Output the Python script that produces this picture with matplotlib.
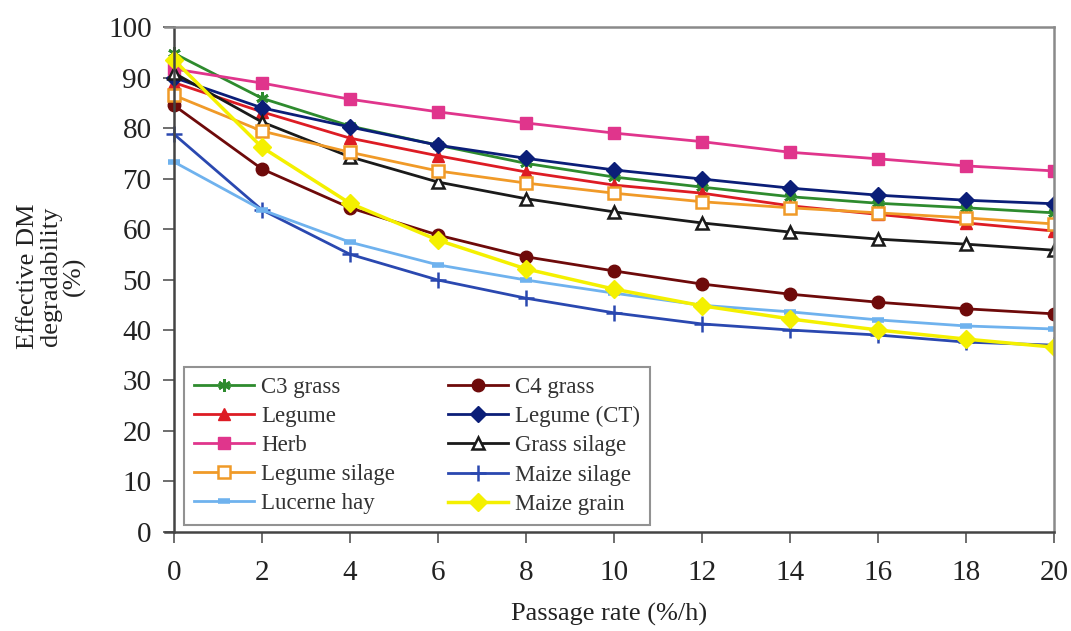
import matplotlib
matplotlib.use("Agg")
import matplotlib.pyplot as plt

plt.rcParams['font.family'] = ['Liberation Serif', 'DejaVu Serif']

rate = [0, 2, 4, 6, 8, 10, 12, 14, 16, 18, 20]

c3_grass = [94.8, 85.9, 80.4, 76.6, 73.0, 70.3, 68.3, 66.4, 65.1, 64.2, 63.2]
c4_grass = [84.5, 71.9, 64.2, 58.8, 54.5, 51.7, 49.1, 47.1, 45.5, 44.2, 43.2]
legume = [89.0, 83.2, 78.0, 74.5, 71.3, 68.7, 67.1, 64.6, 62.9, 61.2, 59.6]
legume_ct = [90.0, 84.0, 80.2, 76.6, 74.0, 71.7, 69.9, 68.1, 66.7, 65.7, 65.0]
herb = [91.7, 88.9, 85.7, 83.2, 81.0, 79.0, 77.3, 75.2, 73.9, 72.5, 71.5]
grass_silage = [90.9, 81.2, 74.3, 69.3, 66.0, 63.4, 61.2, 59.4, 58.0, 57.0, 55.8]
legume_silage = [86.5, 79.4, 75.2, 71.5, 69.1, 67.1, 65.4, 64.2, 63.2, 62.2, 61.0]
maize_silage = [78.8, 63.8, 55.0, 49.9, 46.3, 43.4, 41.2, 40.0, 39.0, 37.6, 37.0]
lucerne_hay = [73.3, 63.8, 57.4, 52.9, 49.9, 47.3, 44.9, 43.6, 42.0, 40.8, 40.2]
maize_grain = [93.5, 76.2, 65.1, 57.8, 52.1, 48.1, 44.8, 42.2, 40.0, 38.2, 36.6]

fig = plt.figure(figsize=(10.71, 6.31), dpi=100)
ax = fig.add_axes([0.1541, 0.1569, 0.8300, 0.8003])

kw = dict(linewidth=2, markersize=9)
h = {}
h['C3 grass'], = ax.plot(rate, c3_grass, color='#2E8B2E', marker=(6, 2, 0), markeredgewidth=2, **kw)
h['C4 grass'], = ax.plot(rate, c4_grass, color='#6E0A0A', marker='o', **kw)
h['Legume'], = ax.plot(rate, legume, color='#DD1C24', marker='^', **kw)
h['Legume (CT)'], = ax.plot(rate, legume_ct, color='#0B1E78', marker='D', linewidth=2, markersize=8)
h['Herb'], = ax.plot(rate, herb, color='#E0358C', marker='s', **kw)
h['Grass silage'], = ax.plot(rate, grass_silage, color='#1A1A1A', marker='^', markerfacecolor='white',
                             markeredgewidth=1.8, **kw)
h['Legume silage'], = ax.plot(rate, legume_silage, color='#F09A28', marker='s', markerfacecolor='white',
                              markeredgewidth=1.8, **kw)
h['Maize silage'], = ax.plot(rate, maize_silage, color='#2A48B0', marker='+', markeredgewidth=1.8,
                             linewidth=2, markersize=12)
h['Lucerne hay'], = ax.plot(rate, lucerne_hay, color='#6FB2EE', marker='_', markeredgewidth=4, **kw)
h['Maize grain'], = ax.plot(rate, maize_grain, color='#F4F000', marker='D', linewidth=2.5, markersize=9)

ax.set_xlim(-0.2, 20)
ax.set_ylim(0, 100)
ax.set_xticks(range(0, 21, 2))
ax.set_yticks(range(0, 101, 10))
ax.tick_params(axis='both', direction='out', length=8, width=1.2,
               labelsize=21, labelcolor='#222222', color='#555555', pad=8)
ax.tick_params(axis='x', pad=12)

for side in ('left', 'bottom'):
    ax.spines[side].set_color('#444444')
    ax.spines[side].set_linewidth(1.8)
for side in ('top', 'right'):
    ax.spines[side].set_color('#8a8a8a')
    ax.spines[side].set_linewidth(1.8)
ax.spines['left'].set_position(('data', 0))

ax.set_xlabel('Passage rate (%/h)', fontsize=19, color='#222222', labelpad=12)
fig.text(0.048, 0.562, 'Effective DM\ndegradability\n(%)', rotation=90,
         ha='center', va='center', multialignment='center',
         fontsize=19, color='#222222', linespacing=1.05)

# legend filled row by row: two entries per row
order = ['C3 grass', 'Legume', 'Herb', 'Legume silage', 'Lucerne hay',
         'C4 grass', 'Legume (CT)', 'Grass silage', 'Maize silage', 'Maize grain']
leg = ax.legend([h[k] for k in order], order, ncol=2, loc='lower left',
                bbox_to_anchor=(0.0215, 0.014, 0.524, 0.315),
                mode='expand', fontsize=16.5, frameon=True, fancybox=False,
                handlelength=2.6, handletextpad=0.3, columnspacing=1.0,
                labelspacing=0.35, borderpad=0.45, borderaxespad=0)
leg.get_frame().set_edgecolor('#777777')
leg.get_frame().set_linewidth(1.5)
for t in leg.get_texts():
    t.set_color('#333333')

fig.savefig('out.png', dpi=100)
